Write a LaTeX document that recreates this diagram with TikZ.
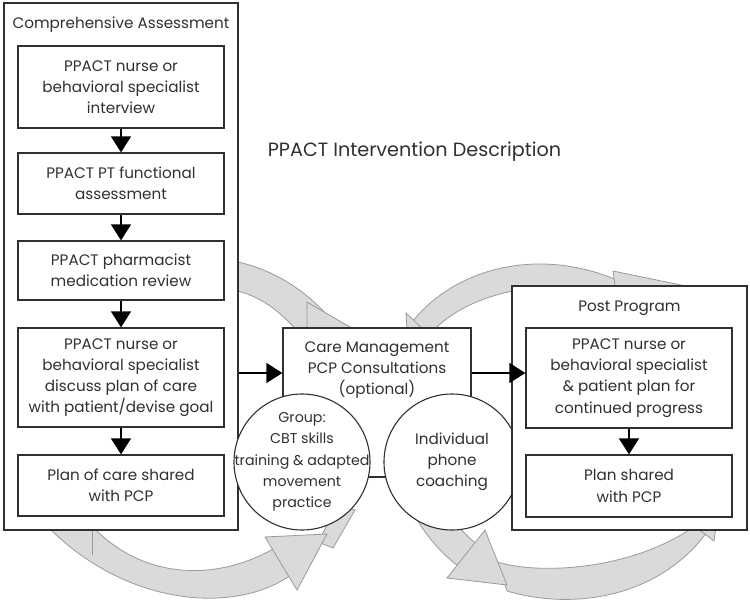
\documentclass[tikz,border=0pt]{standalone}
\usepackage{fontspec}
\setmainfont{Poppins}
\usetikzlibrary{arrows.meta}
\definecolor{gfill}{HTML}{DADADA}
\definecolor{gline}{HTML}{9A9A9A}
\definecolor{ink}{HTML}{303030}
\begin{document}
\begin{tikzpicture}[x=1pt,y=-1pt,
  every node/.style={text=ink, font=\fontsize{15.2}{21.2}\selectfont},
  box/.style={draw=ink, line width=1.3pt, fill=white, inner sep=0pt, align=center},
  circ/.style={draw=ink, line width=1.1pt, fill=white, circle, minimum size=136pt, inner sep=0pt},
  band/.style={fill=gfill, draw=gline, line width=0.8pt},
  flow/.style={draw=black, line width=1.4pt, -{Triangle[width=20pt,length=16pt]}},
  lbl/.style={inner sep=0pt, align=center}
]
\fill[white] (0,0) rectangle (750,602);
\useasboundingbox (0,0) rectangle (750,602);

% ---- grey cycle arrows (background) ----
% left top
\path[band] (225,260) .. controls (262,264) and (300,285) .. (326,314) -- (305,340) .. controls (282,312) and (258,292) .. (225,289) -- cycle;
\path[band] (307,302) -- (355,330) -- (307,362) -- cycle;
% left bottom
\path[band] (318,542) -- (338,505) -- (355,510) -- (333,548) -- cycle;
\path[band] (50,529) -- (95,529) .. controls (140,575) and (210,585) .. (275,548) -- (295,572) .. controls (240,615) and (130,608) .. (50,529) -- cycle;
\draw[gline, line width=0.8pt] (92,530) -- (92,555);
\path[band] (265,537) -- (327,534) -- (297,590) -- cycle;
% right top
\path[band] (405,332) .. controls (445,270) and (540,240) .. (632,287) -- (625,302) .. controls (560,272) and (470,290) .. (432,332) -- cycle;
\path[band] (406,313) -- (440,345) -- (408,345) -- cycle;
\path[band] (613,271) -- (705,290) -- (622,335) -- cycle;
% right bottom
\path[band] (410,508) .. controls (425,535) and (440,552) .. (458,566) -- (478,545) .. controls (465,535) and (455,525) .. (448,505) -- cycle;
\path[band] (497,562) .. controls (540,575) and (630,570) .. (692,528) -- (710,528) .. controls (660,600) and (570,610) .. (507,591) -- cycle;
\path[band] (714,541) -- (720,500) -- (680,515) -- cycle;
\path[band] (447,578) -- (485,530) -- (507,585) -- cycle;

% ---- left column ----
\node[box, minimum width=234pt, minimum height=527pt] (ca) at (121,266.5) {};
\node[lbl] (catitle) at (121,25) {Comprehensive Assessment};
\node[box, minimum width=206pt, minimum height=82pt] (b1) at (121,87) {PPACT nurse or\\behavioral specialist\\interview};
\node[box, minimum width=206pt, minimum height=61pt] (b2) at (121,183.5) {PPACT PT functional\\assessment};
\node[box, minimum width=206pt, minimum height=59pt] (b3) at (121,270.5) {PPACT pharmacist\\medication review};
\node[box, minimum width=206pt, minimum height=99pt] (b4) at (121,377.5) {PPACT nurse or\\behavioral specialist\\discuss plan of care\\with patient/devise goal};
\node[box, minimum width=206pt, minimum height=61pt] (b5) at (121,485.5) {Plan of care shared\\with PCP};

% ---- title ----
\node[lbl, font=\fontsize{19.2}{23}\selectfont] (title) at (414.5,152) {PPACT Intervention Description};

% ---- centre ----
\node[box, minimum width=188pt, minimum height=149pt] (cm) at (377,402.5) {};
\node[lbl] (cmtext) at (377,370) {Care Management\\PCP Consultations\\(optional)};
\node[circ] (grp) at (302,462) {};
\node[lbl, font=\fontsize{14.2}{21.2}\selectfont] (grptext) at (grp.center) {Group:\\CBT skills\\training \& adapted\\movement\\practice};
\node[circ] (phone) at (452,462) {};
\node[lbl] (phonetext) at (phone.center) {Individual\\phone\\coaching};

% ---- right column ----
\node[box, minimum width=235pt, minimum height=244pt] (pp) at (629.5,408) {};
\node[lbl] (pptitle) at (629.5,308) {Post Program};
\node[box, minimum width=206pt, minimum height=100pt] (pp1) at (629,378) {PPACT nurse or\\behavioral specialist\\\& patient plan for\\continued progress};
\node[box, minimum width=206pt, minimum height=62pt] (pp2) at (629,486) {Plan shared\\with PCP};

% ---- flow arrows ----
\coordinate (ay) at (0,373);
\draw[flow] (b1.south) -- (b2.north);
\draw[flow] (b2.south) -- (b3.north);
\draw[flow] (b3.south) -- (b4.north);
\draw[flow] (b4.south) -- (b5.north);
\draw[flow] (pp1.south) -- (pp2.north);
\draw[flow] (ca.east |- ay) -- (cm.west |- ay);
\draw[flow] (cm.east |- ay) -- (pp1.west |- ay);
\end{tikzpicture}
\end{document}
